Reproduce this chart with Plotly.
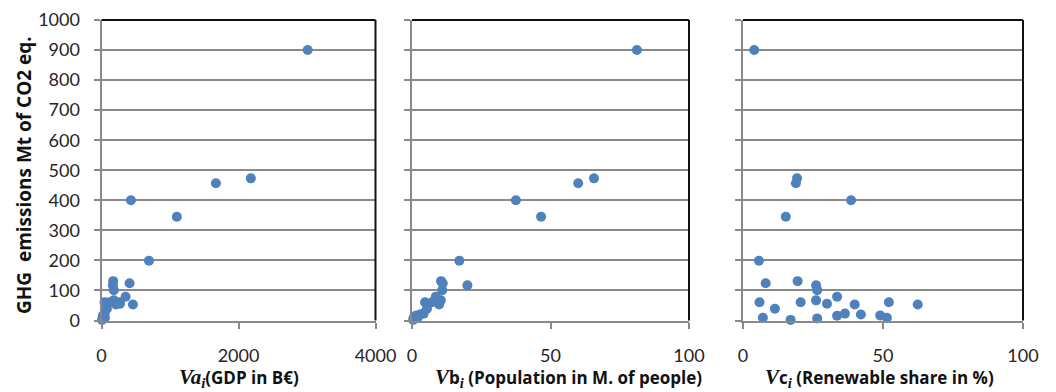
import plotly.graph_objects as go

# GHG emissions (Mt CO2 eq.) per country
ghg = [900, 473, 457, 400, 345, 199, 131, 124, 117, 101, 79, 67, 61, 61, 56, 53, 53,
       61, 39, 23, 20, 17, 16, 9, 9, 7, 2]
# GDP in B€
gdp = [3010, 2180, 1670, 430, 1100, 693, 170, 410, 166, 180, 352, 180, 264, 117, 270,
       459, 210, 44, 79, 44, 37, 38, 20, 24, 50, 18, 9]
# Population in M. of people
pop = [81.2, 65.7, 60.0, 37.5, 46.6, 17.1, 10.5, 11.1, 20.0, 10.9, 8.6, 10.4, 4.7, 9.8,
       5.7, 9.8, 5.5, 7.2, 5.4, 4.2, 2.9, 2.1, 1.3, 2.0, 0.6, 0.85, 0.43]
# Renewable share in %
ren = [4.0, 19.3, 18.9, 38.6, 15.3, 5.7, 19.5, 8.1, 26.1, 26.5, 33.6, 26.1, 5.9, 20.6,
       30.0, 62.4, 39.9, 52.1, 11.4, 36.4, 42.1, 49.0, 33.6, 51.4, 7.1, 26.5, 17.0]

y_ticks = [0, 100, 200, 300, 400, 500, 600, 700, 800, 900, 1000]

W, H = 1056, 392
BLUE = "#4F81BD"
GRID = "#8a8a8a"
FONT = "Lato"
TFONT = "Open Sans"

# panel pixel extents
panels = [(101.5, 375.5, [0, 4000], [0, 2000, 4000]),
          (412.0, 689.0, [0, 100], [0, 50, 100]),
          (743.0, 1023.0, [0, 100], [0, 50, 100])]
y_bot, y_top = 320.5, 20.0
ydom = [(H - y_bot) / H, (H - y_top) / H]

fig = go.Figure()
xs = [gdp, pop, ren]
for i, (x0, x1, xr, xt) in enumerate(panels):
    k = "" if i == 0 else str(i + 1)
    fig.add_trace(go.Scatter(x=xs[i], y=ghg, mode="markers",
                             marker=dict(color=BLUE, size=10, line=dict(width=0)),
                             xaxis="x" + k, yaxis="y" + k, showlegend=False,
                             cliponaxis=False))
    fig.layout["xaxis" + k] = dict(
        domain=[x0 / W, x1 / W], range=xr, tickvals=xt, anchor="y" + k,
        showgrid=False, zeroline=False, showline=True, linecolor=GRID, linewidth=2,
        ticks="outside", ticklen=6, tickwidth=2, tickcolor=GRID,
        ticklabelstandoff=12, automargin=False,
        tickfont=dict(family=FONT, size=18, color="#262626"), fixedrange=True)
    fig.layout["yaxis" + k] = dict(
        domain=ydom, range=[0, 1000], tickvals=y_ticks, anchor="x" + k,
        showgrid=True, gridcolor=GRID, gridwidth=2, zeroline=False,
        showline=True, linecolor=GRID, linewidth=2,
        ticks="outside", ticklen=6, tickwidth=2, tickcolor=GRID,
        showticklabels=(i == 0), ticklabelstandoff=10, automargin=False,
        tickfont=dict(family=FONT, size=18, color="#262626"), fixedrange=True)
    # black top and right border
    fig.add_shape(type="line", xref="paper", yref="paper",
                  x0=x0 / W, x1=x1 / W, y0=ydom[1], y1=ydom[1],
                  line=dict(color="#111111", width=2))
    fig.add_shape(type="line", xref="paper", yref="paper",
                  x0=x1 / W, x1=x1 / W, y0=ydom[0], y1=ydom[1],
                  line=dict(color="#111111", width=2))

serif = "font-family:Liberation Serif;font-size:21px"
titles = [
    (238.5, f"<b><span style='{serif}'><i>Va</i><sub><i>i</i></sub></span>(GDP in B€)</b>"),
    (568.0, f"<b><span style='{serif}'><i>V</i></span>b<span style='{serif}'><sub><i>i</i></sub></span> (Population in M. of people)</b>"),
    (879.0, f"<b><span style='{serif}'><i>V</i></span>c<span style='{serif}'><sub><i>i</i></sub></span> (Renewable share in %)</b>"),
]
for xc, t in titles:
    fig.add_annotation(text=t, xref="paper", yref="paper", x=xc / W, y=(H - 378) / H,
                       xanchor="center", yanchor="middle", showarrow=False,
                       font=dict(family=TFONT, size=17, color="#111111"))

fig.add_annotation(text="<b>GHG  emissions Mt of CO2 eq.</b>", xref="paper", yref="paper",
                   x=24 / W, y=(H - 175) / H, xanchor="center", yanchor="middle",
                   textangle=-90, showarrow=False,
                   font=dict(family=TFONT, size=19, color="#111111"))

fig.update_layout(width=W, height=H,
                  margin=dict(l=0, r=0, t=0, b=0, autoexpand=False),
                  paper_bgcolor="white", plot_bgcolor="white")
fig.write_html("out.html")
